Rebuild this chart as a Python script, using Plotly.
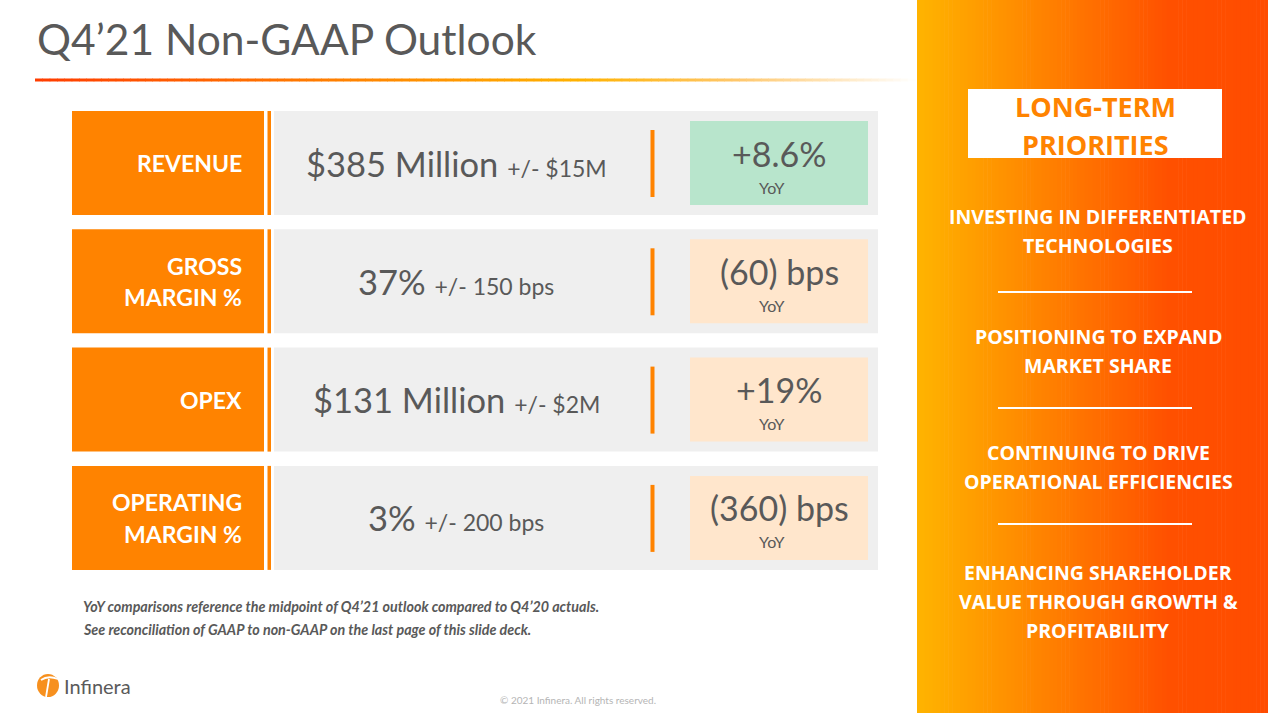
import plotly.graph_objects as go

# ---------------- data ----------------
title = "Q4\u201921 Non-GAAP Outlook"
metrics = ["REVENUE", "GROSS<br>MARGIN %", "OPEX", "OPERATING<br>MARGIN %"]
guidance_main = ["$385 Million", "37%", "$131 Million", "3%"]
guidance_range = ["+/- $15M", "+/- 150 bps", "+/- $2M", "+/- 200 bps"]
yoy_values = ["+8.6%", "(60) bps", "+19%", "(360) bps"]
yoy_positive = [True, False, False, False]
priorities_title = "LONG-TERM<br>PRIORITIES"
priorities = [
    "INVESTING IN DIFFERENTIATED<br>TECHNOLOGIES",
    "POSITIONING TO EXPAND<br>MARKET SHARE",
    "CONTINUING TO DRIVE<br>OPERATIONAL EFFICIENCIES",
    "ENHANCING SHAREHOLDER<br>VALUE THROUGH GROWTH &<br>PROFITABILITY",
]
footnotes = [
    "YoY comparisons reference the midpoint of Q4\u201921 outlook compared to Q4\u201920 actuals.",
    "See reconciliation of GAAP to non-GAAP on the last page of this slide deck.",
]
copyright_text = "\u00a9 2021 Infinera. All rights reserved."
brand = "Infinera"

W, H = 1270, 713
GRAY_TXT = "#595959"
ORANGE = "#FF8300"
FONT = "Lato"
FONT_B = "Open Sans"

shapes = []
annotations = []


def lerp_color(stops, t):
    for i in range(len(stops) - 1):
        t0, c0 = stops[i]
        t1, c1 = stops[i + 1]
        if t0 <= t <= t1:
            f = 0 if t1 == t0 else (t - t0) / (t1 - t0)
            c = [round(c0[k] + (c1[k] - c0[k]) * f) for k in range(3)]
            return "rgb(%d,%d,%d)" % tuple(c)
    c = stops[-1][1]
    return "rgb(%d,%d,%d)" % tuple(c)


def rect(x0, y0, x1, y1, color):
    shapes.append(dict(type="rect", xref="x", yref="y", x0=x0, x1=x1, y0=y0, y1=y1,
                       fillcolor=color, line=dict(width=0), layer="below"))


def text(x, y, s, size, color=GRAY_TXT, family=FONT, xanchor="center", yanchor="middle", align="center"):
    annotations.append(dict(x=x, y=y, xref="x", yref="y", text=s, showarrow=False,
                            font=dict(size=size, color=color, family=family),
                            xanchor=xanchor, yanchor=yanchor, align=align))


def lines(x, y_center, s, size, gap, **kw):
    parts = s.split("<br>")
    y0 = y_center - gap * (len(parts) - 1) / 2
    for j, p in enumerate(parts):
        text(x, y0 + j * gap, "<b>" + p + "</b>", size, **kw)


# ---------------- title + gradient underline ----------------
text(35, 38, title, 42.5, xanchor="left")
ul_stops = [(0.0, (255, 60, 0)), (0.3, (255, 120, 0)), (0.62, (255, 178, 0)), (0.8, (255, 200, 110)), (1.0, (255, 255, 255))]
n = 120
x_start, x_end = 35, 915
for i in range(n):
    xa = x_start + (x_end - x_start) * i / n
    xb = x_start + (x_end - x_start) * (i + 1) / n + 0.6
    rect(xa, 78.5, xb, 81.5, lerp_color(ul_stops, (i + 0.5) / n))

# ---------------- metric rows ----------------
row_top0 = 111
row_step = 118.3
row_h = 104
for i, m in enumerate(metrics):
    top = row_top0 + i * row_step
    bot = top + row_h
    mid = (top + bot) / 2
    rect(72, top, 264, bot, ORANGE)
    rect(267.5, top, 271, bot, ORANGE)
    rect(274, top, 878, bot, "#EFEFEF")
    lines(244, mid, m, 23, 31.5, color="white", xanchor="right", align="right")
    text(456, mid, guidance_main[i] + " <span style='font-size:23px'>" + guidance_range[i] + "</span>", 34.5)
    rect(650.5, top + 19, 654.5, bot - 18, ORANGE)
    rect(690, top + 10, 868, bot - 10, "#B8E5CC" if yoy_positive[i] else "#FFE6CC")
    text(779, top + 42, yoy_values[i], 34)
    text(772, top + 76, "YoY", 16)

# ---------------- footnotes ----------------
for j, fn in enumerate(footnotes):
    text(81, 606 + j * 23, "<b><i>" + fn + "</i></b>", 14.3, xanchor="left")

# ---------------- logo + copyright ----------------
shapes.append(dict(type="circle", xref="x", yref="y", x0=37, x1=59, y0=674, y1=697,
                   fillcolor="#F7901E", line=dict(width=0)))
shapes.append(dict(type="path", xref="x", yref="y",
                   path="M 41 680 Q 48 675 58 679 M 49 679 L 46 697",
                   line=dict(color="white", width=1.8)))
text(62, 686, brand, 20, color="#5a5a5a", xanchor="left")
text(578, 700, copyright_text, 10, color="#b5b5b5")

# ---------------- right panel ----------------
panel_stops = [(0.0, (255, 180, 0)), (0.4, (255, 125, 0)), (0.72, (255, 80, 0)), (1.0, (255, 76, 0))]
px0, px1 = 917, 1268
n = 90
for i in range(n):
    xa = px0 + (px1 - px0) * i / n
    xb = px0 + (px1 - px0) * (i + 1) / n + 0.6
    rect(xa, 0, min(xb, px1), H, lerp_color(panel_stops, (i + 0.5) / n))

rect(968, 89, 1222, 158, "white")
lines(1095, 125.5, priorities_title, 27, 38.5, color=ORANGE, family=FONT_B)

pri_centers = [230.5, 350.5, 466.5, 601]
for k, p in enumerate(priorities):
    lines(1098, pri_centers[k], p, 19.5, 29, color="white", family=FONT_B)
for yline in [292, 408, 524]:
    shapes.append(dict(type="line", xref="x", yref="y", x0=998, x1=1192, y0=yline, y1=yline,
                       line=dict(color="white", width=2)))

fig = go.Figure()
fig.update_layout(
    width=W, height=H,
    margin=dict(l=0, r=0, t=0, b=0),
    paper_bgcolor="white", plot_bgcolor="white",
    xaxis=dict(range=[0, W], visible=False, fixedrange=True),
    yaxis=dict(range=[H, 0], visible=False, fixedrange=True),
    shapes=shapes, annotations=annotations, showlegend=False,
)
fig.write_html("out.html", config={"displayModeBar": False},
               post_script="document.body.style.margin='0';document.body.style.overflow='hidden';")
